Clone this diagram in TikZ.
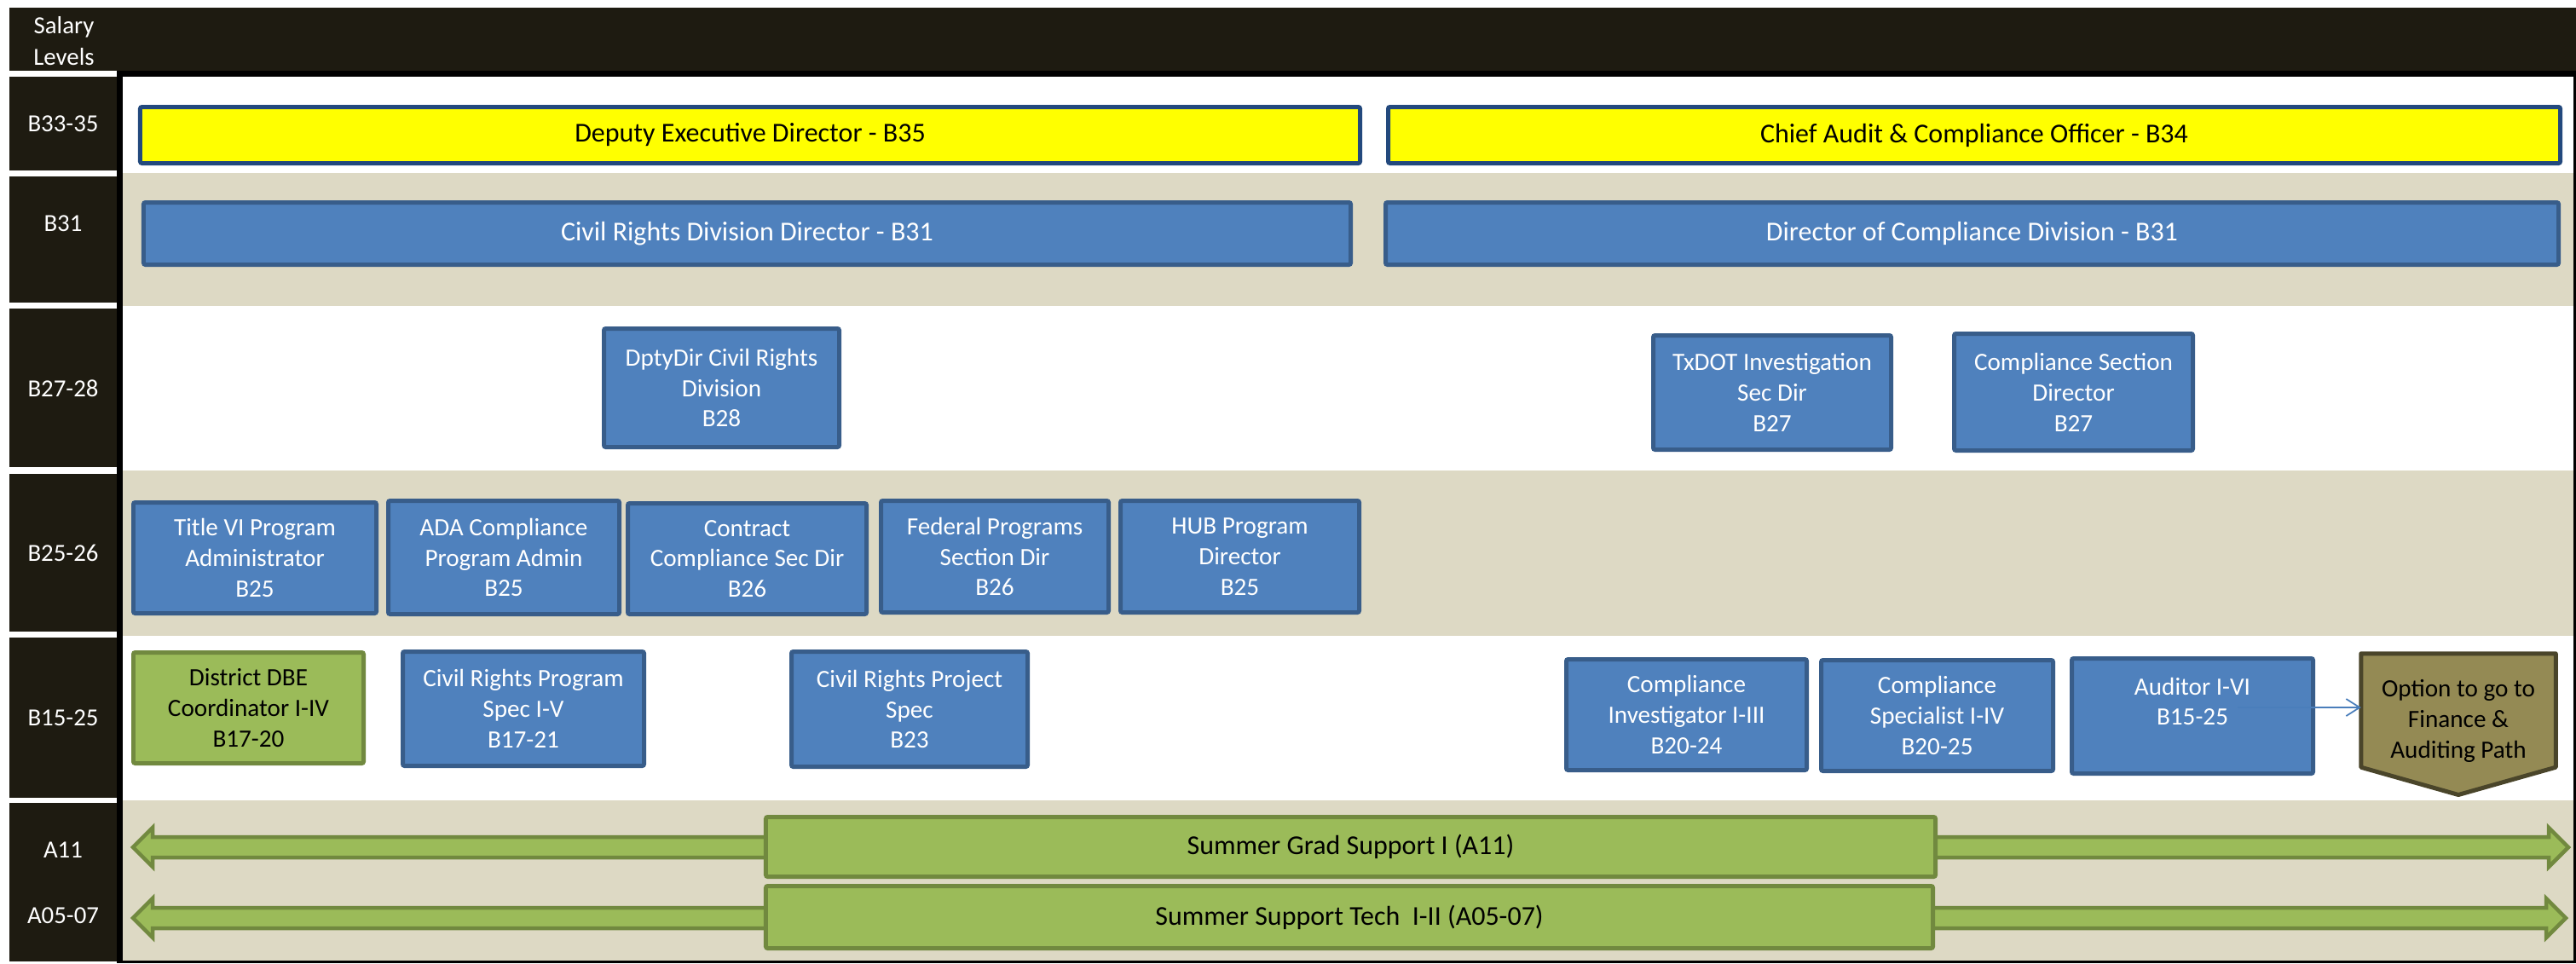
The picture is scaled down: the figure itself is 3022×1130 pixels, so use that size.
\documentclass[tikz,border=0pt]{standalone}
\usepackage{fontspec}
\setmainfont{Carlito}
\usetikzlibrary{fit,arrows.meta,calc}
\definecolor{dkhead}{RGB}{30,27,17}
\definecolor{tanbg}{RGB}{221,217,196}
\definecolor{boxblue}{RGB}{79,129,189}
\definecolor{boxbord}{RGB}{56,93,138}
\definecolor{ybord}{RGB}{35,73,125}
\definecolor{yfill}{RGB}{255,255,0}
\definecolor{gfill}{RGB}{155,187,89}
\definecolor{gbord}{RGB}{113,137,63}
\definecolor{ofill}{RGB}{148,138,84}
\definecolor{obord}{RGB}{74,69,42}
\definecolor{conncol}{RGB}{74,126,187}
\newcommand\rowfont{\fontsize{8.3}{10.2}\selectfont}
\newcommand\topfont{\fontsize{9.1}{11}\selectfont}
\newcommand\lblfont{\fontsize{8.2}{10.5}\selectfont}
\newcommand\mkbox[7]{%
  \pgfmathsetmacro\mkcx{(#3+#5)/2}\pgfmathsetmacro\mkcy{(#4+#6)/2}%
  \pgfmathsetmacro\mkw{(#5-#3-5)*0.01}\pgfmathsetmacro\mkh{(#6-#4-5)*0.01}%
  \node[#1, minimum width=\mkw cm, minimum height=\mkh cm] (#2) at (\mkcx,\mkcy) {#7};}
\tikzset{
  jobbox/.style={draw=boxbord, fill=boxblue, line width=1.42pt, rounded corners=0.6pt,
    inner sep=0pt, text=white, align=center, font=\rowfont},
  topbox/.style={jobbox, draw=ybord, fill=yfill, text=black, font=\topfont},
  divbox/.style={jobbox, font=\topfont},
  greenbox/.style={jobbox, draw=gbord, fill=gfill, text=black},
  sumbox/.style={jobbox, draw=gbord, fill=gfill, text=black, font=\topfont},
  lvlcell/.style={fill=dkhead},
  lvltext/.style={text=white, font=\lblfont, align=center, inner sep=0pt},
  dblarrow/.style={fill=gfill, draw=gbord, line width=1.28pt, line join=miter},
  optshape/.style={fill=ofill, draw=obord, line width=1.42pt, line join=round},
  conn/.style={draw=conncol, line width=0.5pt, -{Straight Barb[length=4.5pt,width=5.7pt]}},
  plaintext/.style={inner sep=0pt, align=center, font=\rowfont}
}
\begin{document}
\begin{tikzpicture}[x=0.01cm,y=-0.01cm]
\useasboundingbox (0,0) rectangle (3022,1130);
\fill[white] (0,0) rectangle (3022,1130);
% header
\fill[dkhead] (11,9) rectangle (3022,83);
% bands
\fill[tanbg] (144,203) rectangle (3019,359);
\fill[tanbg] (144,552) rectangle (3019,746);
\fill[tanbg] (144,939) rectangle (3019,1128);
% frame
\fill[black] (137,83) rectangle (3022,90);
\fill[black] (137,83) rectangle (144,1130);
\fill[black] (3019,90) rectangle (3022,1130);
\fill[black] (137,1127) rectangle (3022,1130);
% level cells
\fill[lvlcell] (11,90) rectangle (137,200);
\fill[lvlcell] (11,207) rectangle (137,355);
\fill[lvlcell] (11,362) rectangle (137,548);
\fill[lvlcell] (11,556) rectangle (137,741);
\fill[lvlcell] (11,748) rectangle (137,936);
\fill[lvlcell] (11,942) rectangle (137,1128);
\node[lvltext] (lsal) at (75,48) {Salary\\Levels};
\node[lvltext] (l1) at (74,145) {B33-35};
\node[lvltext] (l2) at (74,262) {B31};
\node[lvltext] (l3) at (74,456) {B27-28};
\node[lvltext] (l4) at (74,649) {B25-26};
\node[lvltext] (l5) at (74,842) {B15-25};
\node[lvltext] (l6) at (74,997) {A11};
\node[lvltext] (l7) at (74,1074) {A05-07};
% top rows
\mkbox{topbox}{ded}{162}{123}{1598}{194}{Deputy Executive Director - B35}
\mkbox{topbox}{cac}{1626}{123}{3006}{194}{Chief Audit \& Compliance Officer - B34}
\mkbox{divbox}{crd}{166}{235}{1587}{313}{Civil Rights Division Director - B31}
\mkbox{divbox}{dcd}{1623}{235}{3004}{313}{Director of Compliance Division - B31}
% B27-28
\mkbox{jobbox}{dpty}{706}{383}{987}{527}{DptyDir Civil Rights\\Division\\B28}
\mkbox{jobbox}{txdot}{1937}{391}{2221}{530}{TxDOT Investigation\\Sec Dir\\B27}
\mkbox{jobbox}{csd}{2290}{389}{2575}{531}{Compliance Section\\Director\\B27}
% B25-26
\mkbox{jobbox}{t6}{154}{587}{444}{722}{Title VI Program\\Administrator\\B25}
\mkbox{jobbox}{ada}{453}{585}{729}{723}{ADA Compliance\\Program Admin\\B25}
\mkbox{jobbox}{ccsd}{734}{588}{1019}{723}{Contract\\Compliance Sec Dir\\B26}
\mkbox{jobbox}{fpsd}{1031}{585}{1303}{721}{Federal Programs\\Section Dir\\B26}
\mkbox{jobbox}{hub}{1312}{585}{1597}{721}{HUB Program\\Director\\B25}
% B15-25
\mkbox{greenbox}{dbe}{154}{763}{429}{898}{District DBE\\Coordinator I-IV\\B17-20}
\mkbox{jobbox}{crps}{470}{762}{758}{901}{Civil Rights Program\\Spec I-V\\B17-21}
\mkbox{jobbox}{crpj}{926}{762}{1208}{902}{Civil Rights Project\\Spec\\B23}
\mkbox{jobbox}{cinv}{1835}{771}{2122}{906}{Compliance\\Investigator I-III\\B20-24}
\mkbox{jobbox}{cspec}{2134}{772}{2411}{907}{Compliance\\Specialist I-IV\\B20-25}
\mkbox{jobbox}{aud}{2428}{770}{2716}{910}{}
\node[plaintext, text=white] (audt) at ($(aud.center)+(0,-17)$) {Auditor I-VI\\B15-25};
% option pentagon
\node[inner sep=0pt, fit={(2770.5,767.5) (2997.5,899.5)}] (opt) {};
\draw[optshape] (opt.north west) -- (opt.north east) -- (opt.south east) -- (2884,932.5) -- (opt.south west) -- cycle;
\node[plaintext, text=black] (optt) at (2884,846) {Option to go to\\Finance \&\\Auditing Path};
\coordinate (cs) at ($(aud.east)+(-91,-10)$);
\draw[conn] (cs) -- (cs -| opt.west);
% A rows: double arrows
\draw[dblarrow] (156,994) -- (179,971) -- (179,982) -- (2990,982) -- (2990,971) -- (3013,994)
  -- (2990,1017) -- (2990,1006) -- (179,1006) -- (179,1017) -- cycle;
\draw[dblarrow] (156,1077) -- (179,1054) -- (179,1065) -- (2987,1065) -- (2987,1054) -- (3010,1077)
  -- (2987,1100) -- (2987,1089) -- (179,1089) -- (179,1100) -- cycle;
\mkbox{sumbox}{sgs}{896}{956}{2273}{1031}{Summer Grad Support I (A11)}
\mkbox{sumbox}{sst}{896}{1037}{2270}{1115}{Summer Support Tech\ \ I-II (A05-07)}
\end{tikzpicture}
\end{document}
